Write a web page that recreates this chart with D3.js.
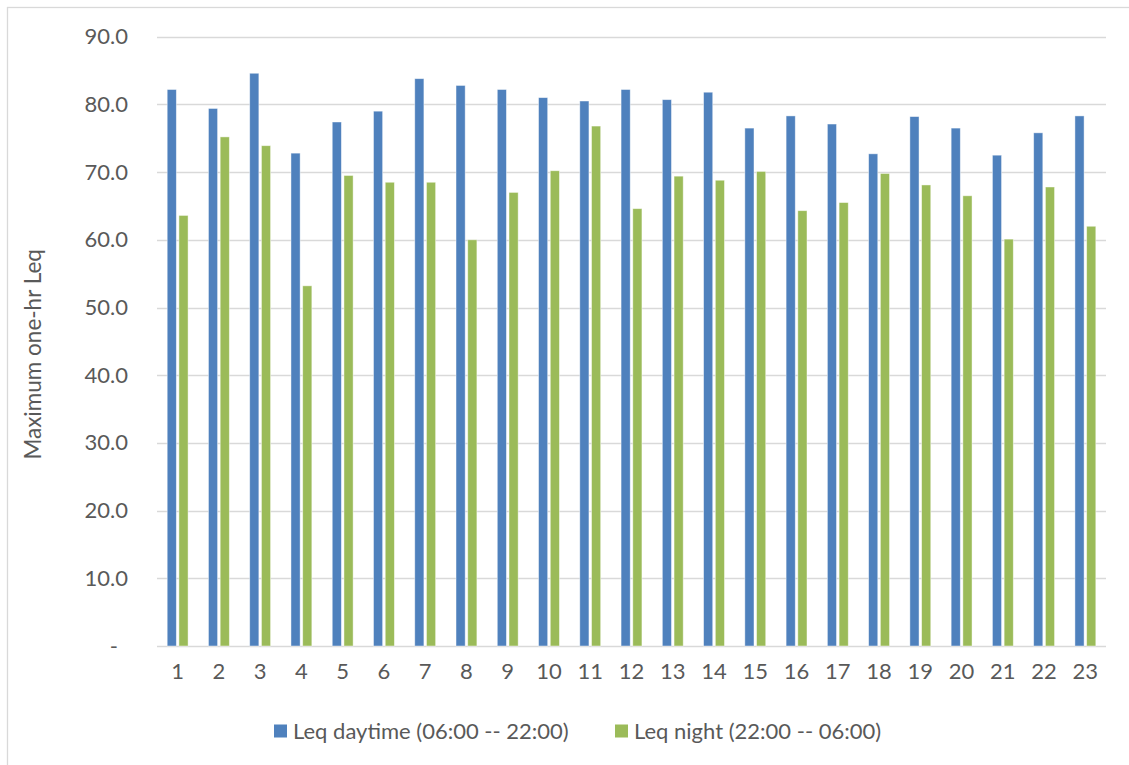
<!DOCTYPE html>
<html>
<head>
<meta charset="utf-8">
<script src="https://cdn.jsdelivr.net/npm/d3@7"></script>
<style>
  html, body { margin: 0; padding: 0; background: #fff; }
  svg text { font-family: Lato, "Open Sans", sans-serif; fill: #595959; }
</style>
</head>
<body>
<svg id="chart" width="1129" height="765"></svg>
<script>
// Monitoring sites 1..23
const sites = d3.range(1, 24).map(String);

// Maximum one-hour Leq per site, dB(A)
const leqDay   = [82.2, 79.4, 84.6, 72.8, 77.4, 79.0, 83.8, 82.8, 82.2, 81.0, 80.5, 82.2,
                  80.7, 81.8, 76.5, 78.3, 77.1, 72.7, 78.2, 76.5, 72.5, 75.8, 78.3];
const leqNight = [63.6, 75.2, 73.9, 53.2, 69.5, 68.5, 68.5, 60.0, 67.0, 70.2, 76.8, 64.6,
                  69.4, 68.8, 70.1, 64.3, 65.5, 69.8, 68.1, 66.5, 60.1, 67.8, 62.0];

const seriesNames  = ["Leq daytime (06:00 -- 22:00)", "Leq night (22:00 -- 06:00)"];
const seriesColors = ["#4F81BD", "#9BBB59"];
const yTicks = [0, 10, 20, 30, 40, 50, 60, 70, 80, 90];
const yTitle = "Maximum one-hr Leq";

const svg = d3.select("#chart");
const plot = { left: 157, right: 1106, top: 36.7, bottom: 646 };
const fontSize = 22;

// chart area frame
svg.append("rect")
  .attr("x", 7.5).attr("y", 7.5)
  .attr("width", 1140).attr("height", 770)
  .attr("fill", "none").attr("stroke", "#D9D9D9").attr("stroke-width", 1.3);

const x0 = d3.scaleBand().domain(sites).range([plot.left, plot.right]).padding(0);
const groupInset = x0.bandwidth() * 0.247;
const x1 = d3.scaleBand().domain([0, 1])
  .range([groupInset, x0.bandwidth() - groupInset]).paddingInner(0.22);
const y = d3.scaleLinear().domain([0, 90]).range([plot.bottom, plot.top]);

// gridlines
svg.append("g")
  .selectAll("line").data(yTicks).join("line")
  .attr("x1", plot.left).attr("x2", plot.right)
  .attr("y1", d => Math.round(y(d)) + 0.5).attr("y2", d => Math.round(y(d)) + 0.5)
  .attr("stroke", "#D9D9D9").attr("stroke-width", 1.3);

// y axis labels (accounting style: zero shown as a dash)
const yAxis = d3.axisLeft(y).tickValues(yTicks)
  .tickFormat(d => d === 0 ? "-" : d3.format(".1f")(d))
  .tickSize(0).tickPadding(0);
const gy = svg.append("g").attr("transform", `translate(128,0)`).call(yAxis);
gy.select(".domain").remove();
gy.selectAll("text").attr("font-size", fontSize).attr("fill", "#595959")
  .style("font-family", "Lato, sans-serif")
  .attr("dx", d => d === 0 ? -10 : 0);

// x axis labels
const xAxis = d3.axisBottom(x0).tickSize(0).tickPadding(0);
const gx = svg.append("g").attr("transform", `translate(0,${plot.bottom})`).call(xAxis);
gx.select(".domain").remove();
gx.selectAll("text").attr("font-size", fontSize).attr("fill", "#595959")
  .style("font-family", "Lato, sans-serif").attr("dy", "1.5em");

// bars
const rows = sites.map((s, i) => ({ site: s, values: [leqDay[i], leqNight[i]] }));
svg.append("g").selectAll("g").data(rows).join("g")
  .attr("transform", d => `translate(${x0(d.site)},0)`)
  .selectAll("rect").data(d => d.values.map((v, k) => ({ k, v }))).join("rect")
  .attr("x", d => x1(d.k))
  .attr("width", x1.bandwidth())
  .attr("y", d => y(d.v))
  .attr("height", d => y(0) - y(d.v))
  .attr("fill", d => seriesColors[d.k])
  .attr("stroke", "#ffffff").attr("stroke-opacity", 0.55).attr("stroke-width", 0.8);

// y axis title
svg.append("text")
  .attr("transform", `translate(35,${(plot.top + plot.bottom) / 2 + 13}) rotate(-90)`)
  .attr("text-anchor", "middle").attr("dominant-baseline", "middle")
  .attr("font-size", 22.5).text(yTitle);

// legend
const legendX = [274, 615];
const lg = svg.append("g").selectAll("g").data(seriesNames).join("g")
  .attr("transform", (d, i) => `translate(${legendX[i]},731)`);
lg.append("rect").attr("x", 0).attr("y", -6.5).attr("width", 13).attr("height", 13)
  .attr("fill", (d, i) => seriesColors[i]);
lg.append("text").attr("x", 19).attr("dy", "0.35em").attr("font-size", fontSize).text(d => d);
</script>
</body>
</html>
